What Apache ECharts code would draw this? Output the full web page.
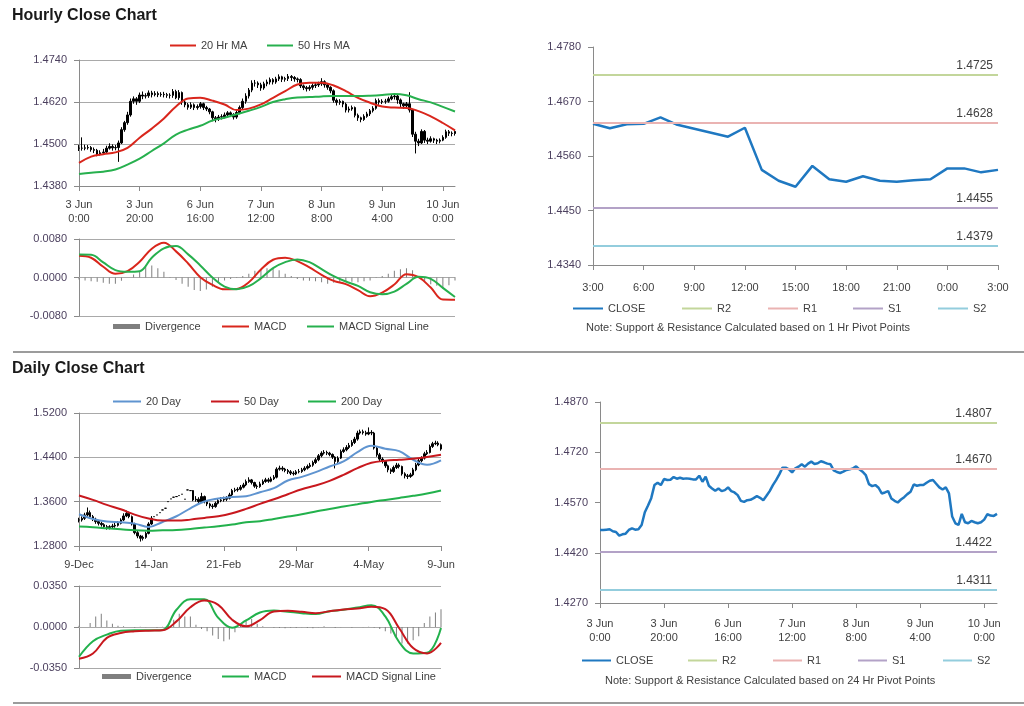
<!DOCTYPE html>
<html><head><meta charset="utf-8">
<script src="https://cdn.jsdelivr.net/npm/echarts@6/dist/echarts.min.js"></script>
<style>html,body{margin:0;padding:0;background:#fff}#c{width:1024px;height:706px}</style>
</head><body><div id="c"></div>
<script>
const FONT = "'Liberation Sans', Arial, sans-serif";

// ---------- tick labels ----------
const hourTicks = ['3 Jun\n0:00','3 Jun\n20:00','6 Jun\n16:00','7 Jun\n12:00','8 Jun\n8:00','9 Jun\n4:00','10 Jun\n0:00'];
const pivotHourTicks = ['3:00','6:00','9:00','12:00','15:00','18:00','21:00','0:00','3:00'];
const dayTicks = ['9-Dec','14-Jan','21-Feb','29-Mar','4-May','9-Jun'];

// ---------- hourly data (one value per hour from 3 Jun 0:00) ----------
const hourlyClose = [
1.4488,1.4488,1.4489,1.4490,1.4484,1.4482,1.4471,1.4475,1.4477,1.4488,
1.4493,1.4489,1.4490,1.4503,1.4541,1.4561,1.4583,1.4622,1.4629,1.4622,
1.4640,1.4637,1.4638,1.4646,1.4641,1.4644,1.4641,1.4642,1.4641,1.4639,
1.4639,1.4650,1.4632,1.4647,1.4620,1.4612,1.4605,1.4612,1.4604,1.4607,
1.4615,1.4604,1.4600,1.4592,1.4575,1.4572,1.4577,1.4578,1.4583,1.4589,
1.4584,1.4577,1.4590,1.4604,1.4622,1.4637,1.4654,1.4674,1.4674,1.4669,
1.4660,1.4672,1.4677,1.4684,1.4677,1.4686,1.4692,1.4685,1.4687,1.4693,
1.4690,1.4686,1.4684,1.4666,1.4661,1.4658,1.4662,1.4667,1.4669,1.4672,
1.4678,1.4669,1.4662,1.4652,1.4625,1.4619,1.4622,1.4614,1.4597,1.4600,
1.4604,1.4582,1.4575,1.4570,1.4579,1.4586,1.4595,1.4602,1.4624,1.4620,
1.4622,1.4622,1.4629,1.4635,1.4637,1.4626,1.4615,1.4609,1.4615,1.4597,
1.4528,1.4508,1.4503,1.4536,1.4511,1.4508,1.4515,1.4511,1.4508,1.4511,
1.4519,1.4535,1.4531,1.4530,1.4536];
const hourlyHigh = [
1.4497,1.4519,1.4498,1.4497,1.4494,1.4490,1.4486,1.4482,1.4486,1.4495,
1.4502,1.4499,1.4497,1.4510,1.4548,1.4566,1.4592,1.4630,1.4636,1.4634,
1.4647,1.4650,1.4645,1.4653,1.4652,1.4651,1.4650,1.4648,1.4649,1.4646,
1.4645,1.4657,1.4655,1.4654,1.4650,1.4625,1.4617,1.4619,1.4616,1.4613,
1.4620,1.4618,1.4609,1.4603,1.4595,1.4580,1.4583,1.4585,1.4590,1.4594,
1.4593,1.4588,1.4596,1.4610,1.4630,1.4645,1.4660,1.4682,1.4683,1.4679,
1.4675,1.4678,1.4684,1.4690,1.4688,1.4692,1.4699,1.4695,1.4692,1.4700,
1.4697,1.4694,1.4690,1.4688,1.4670,1.4666,1.4668,1.4673,1.4675,1.4678,
1.4688,1.4682,1.4673,1.4665,1.4656,1.4630,1.4628,1.4624,1.4618,1.4607,
1.4610,1.4607,1.4587,1.4578,1.4585,1.4592,1.4600,1.4608,1.4630,1.4630,
1.4628,1.4629,1.4635,1.4642,1.4645,1.4640,1.4630,1.4618,1.4620,1.4648,
1.4600,1.4535,1.4515,1.4542,1.4540,1.4518,1.4522,1.4518,1.4515,1.4516,
1.4525,1.4541,1.4540,1.4536,1.4540];
const hourlyLow = [
1.4480,1.4481,1.4482,1.4484,1.4478,1.4474,1.4465,1.4467,1.4470,1.4473,
1.4484,1.4481,1.4482,1.4449,1.4500,1.4535,1.4555,1.4578,1.4615,1.4612,
1.4617,1.4628,1.4630,1.4632,1.4633,1.4636,1.4634,1.4635,1.4633,1.4632,
1.4630,1.4632,1.4628,1.4626,1.4612,1.4605,1.4598,1.4600,1.4597,1.4598,
1.4601,1.4597,1.4594,1.4585,1.4565,1.4562,1.4566,1.4570,1.4573,1.4578,
1.4577,1.4570,1.4572,1.4585,1.4598,1.4615,1.4630,1.4648,1.4664,1.4660,
1.4652,1.4655,1.4665,1.4670,1.4670,1.4672,1.4680,1.4677,1.4678,1.4680,
1.4680,1.4678,1.4676,1.4660,1.4654,1.4650,1.4652,1.4655,1.4660,1.4663,
1.4666,1.4661,1.4655,1.4645,1.4618,1.4610,1.4612,1.4605,1.4590,1.4590,
1.4595,1.4576,1.4566,1.4562,1.4566,1.4575,1.4580,1.4590,1.4598,1.4612,
1.4614,1.4615,1.4618,1.4625,1.4627,1.4615,1.4605,1.4600,1.4600,1.4590,
1.4520,1.4473,1.4494,1.4500,1.4503,1.4500,1.4504,1.4503,1.4500,1.4502,
1.4508,1.4515,1.4523,1.4522,1.4524];
// moving averages, read every 4 hours
const ma20Hr = [1.4446,1.4464,1.4471,1.4476,1.4489,1.4518,1.4544,1.4573,1.4607,1.4630,1.4632,1.4624,1.4613,1.4597,1.4601,1.4613,1.4632,1.4651,1.4670,1.4675,1.4675,1.4667,1.4651,1.4632,1.4618,1.4607,1.4604,1.4603,1.4594,1.4579,1.4560,1.4539];
const ma50Hr = [1.4414,1.4418,1.4421,1.4427,1.4441,1.4458,1.4480,1.4502,1.4527,1.4541,1.4552,1.4567,1.4575,1.4585,1.4595,1.4606,1.4620,1.4628,1.4633,1.4634,1.4636,1.4637,1.4637,1.4637,1.4638,1.4640,1.4643,1.4639,1.4628,1.4619,1.4606,1.4593];
// MACD, read every 4 hours; divergence every 2 hours
const macdHr = [0.00452,0.00411,0.00223,0.00077,0.00132,0.00327,0.00599,0.00724,0.00543,0.00292,0.00007,-0.00153,-0.00244,-0.00237,-0.00097,0.00167,0.00369,0.00411,0.00341,0.00209,0.00056,-0.0007,-0.00139,-0.00264,-0.0039,-0.00313,-0.00146,0.0007,0.00007,-0.00209,-0.00459,-0.00462];
const signalHr = [0.0048,0.00473,0.00313,0.00153,0.00118,0.00132,0.00411,0.00606,0.00654,0.0048,0.00251,0,-0.00188,-0.00244,-0.00181,-0.00014,0.00195,0.0032,0.00376,0.0032,0.00174,0.00028,-0.00084,-0.00174,-0.00306,-0.00348,-0.00292,-0.00132,0.00014,-0.00028,-0.00216,-0.00404];
const divergenceHr = [-0.0004,-0.0006,-0.0008,-0.0009,-0.0011,-0.0013,-0.0013,-0.0007,0.0000,0.0006,
0.0013,0.0023,0.0025,0.0019,0.0012,0.0001,-0.0005,-0.0013,-0.0019,-0.0026,
-0.0028,-0.0025,-0.0019,-0.0011,-0.0006,-0.0003,-0.0001,0.0003,0.0008,0.0014,
0.0017,0.0019,0.0019,0.0015,0.0008,0.0003,-0.0003,-0.0006,-0.0007,-0.0008,
-0.0010,-0.0013,-0.0011,-0.0010,-0.0009,-0.0009,-0.0010,-0.0008,-0.0006,-0.0001,
0.0003,0.0008,0.0014,0.0017,0.0019,0.0015,0.0001,-0.0009,-0.0014,-0.0017,
-0.0023,-0.0016,-0.0006];

// 1 hr pivot chart (3:00 .. 3:00)
const pivotClose1h = [1.4625,1.4616,1.4624,1.4625,1.4638,1.4623,1.4615,1.4607,1.4599,1.4617,1.4532,1.4510,1.4498,1.4540,1.4513,1.4508,1.4519,1.4510,1.4508,1.4511,1.4513,1.4535,1.4535,1.4527,1.4532];
const pivotNames = ['R2','R1','S1','S2'];
const pivotLevels1h = [1.4725,1.4628,1.4455,1.4379];
const pivotLevels24h = [1.4807,1.4670,1.4422,1.4311];

// ---------- daily data ----------
const dailyClose = [
1.3270,1.3300,1.3360,1.3402,1.3330,1.3282,1.3240,1.3209,1.3185,1.3149,
1.3131,1.3149,1.3161,1.3173,1.3209,1.3270,1.3342,1.3390,1.3330,1.3197,
1.3041,1.2980,1.2938,1.2956,1.3028,1.3197,1.3300,1.3330,1.3360,1.3402,
1.3451,1.3481,1.3601,1.3650,1.3680,1.3692,1.3710,1.3734,1.3644,1.3812,
1.3800,1.3631,1.3644,1.3601,1.3692,1.3601,1.3559,1.3523,1.3511,1.3571,
1.3619,1.3631,1.3644,1.3662,1.3722,1.3800,1.3812,1.3824,1.3861,1.3903,
1.3963,1.3993,1.3945,1.3880,1.3873,1.3921,1.3964,1.3994,1.3970,1.4012,
1.4042,1.4187,1.4205,1.4187,1.4163,1.4139,1.4114,1.4102,1.4139,1.4145,
1.4175,1.4205,1.4235,1.4259,1.4307,1.4356,1.4428,1.4476,1.4488,1.4476,
1.4452,1.4404,1.4325,1.4386,1.4506,1.4536,1.4579,1.4615,1.4669,1.4729,
1.4838,1.4862,1.4844,1.4820,1.4850,1.4838,1.4567,1.4446,1.4368,1.4325,
1.4247,1.4175,1.4145,1.4217,1.4259,1.4235,1.4102,1.4066,1.4054,1.4084,
1.4175,1.4265,1.4338,1.4386,1.4464,1.4488,1.4597,1.4645,1.4657,1.4627,
1.4549];
const dailyHigh = [
1.3310,1.3335,1.3400,1.3495,1.3440,1.3360,1.3310,1.3270,1.3240,1.3210,
1.3180,1.3175,1.3200,1.3220,1.3250,1.3300,1.3390,1.3440,1.3420,1.3350,
1.3220,1.3070,1.3000,1.2990,1.3060,1.3230,1.3340,1.3330,1.3360,1.3402,
1.3451,1.3481,1.3601,1.3650,1.3680,1.3692,1.3710,1.3734,1.3644,1.3812,
1.3800,1.3810,1.3700,1.3680,1.3760,1.3710,1.3620,1.3580,1.3560,1.3600,
1.3660,1.3680,1.3690,1.3700,1.3760,1.3830,1.3850,1.3860,1.3900,1.3940,
1.4000,1.4040,1.4010,1.3960,1.3910,1.3960,1.4000,1.4030,1.4030,1.4050,
1.4080,1.4220,1.4250,1.4240,1.4210,1.4190,1.4170,1.4150,1.4170,1.4190,
1.4210,1.4240,1.4270,1.4300,1.4340,1.4390,1.4460,1.4510,1.4530,1.4520,
1.4500,1.4470,1.4420,1.4420,1.4540,1.4580,1.4620,1.4660,1.4710,1.4770,
1.4880,1.4900,1.4900,1.4880,1.4940,1.4890,1.4860,1.4590,1.4480,1.4400,
1.4350,1.4270,1.4200,1.4250,1.4300,1.4290,1.4250,1.4130,1.4100,1.4120,
1.4210,1.4300,1.4370,1.4420,1.4500,1.4530,1.4630,1.4680,1.4700,1.4690,
1.4650];
const dailyLow = [
1.3225,1.3240,1.3270,1.3330,1.3300,1.3250,1.3200,1.3170,1.3150,1.3110,
1.3095,1.3100,1.3120,1.3130,1.3150,1.3190,1.3250,1.3320,1.3300,1.3170,
1.3010,1.2940,1.2880,1.2900,1.2930,1.3010,1.3180,1.3330,1.3360,1.3402,
1.3451,1.3481,1.3601,1.3650,1.3680,1.3692,1.3710,1.3734,1.3644,1.3812,
1.3800,1.3610,1.3600,1.3570,1.3580,1.3570,1.3520,1.3480,1.3470,1.3490,
1.3550,1.3590,1.3600,1.3610,1.3640,1.3700,1.3770,1.3780,1.3800,1.3840,
1.3880,1.3940,1.3910,1.3850,1.3830,1.3850,1.3900,1.3940,1.3940,1.3950,
1.3990,1.4020,1.4160,1.4150,1.4130,1.4100,1.4080,1.4070,1.4080,1.4110,
1.4120,1.4150,1.4180,1.4210,1.4230,1.4280,1.4330,1.4400,1.4450,1.4440,
1.4420,1.4370,1.4200,1.4300,1.4370,1.4480,1.4510,1.4550,1.4590,1.4640,
1.4700,1.4810,1.4810,1.4790,1.4800,1.4800,1.4540,1.4410,1.4330,1.4290,
1.4210,1.4130,1.4100,1.4120,1.4190,1.4200,1.4070,1.4020,1.4010,1.4030,
1.4060,1.4150,1.4240,1.4310,1.4360,1.4440,1.4470,1.4570,1.4620,1.4600,
1.4520];
// moving averages, read every 5 days
const ma20Day = [1.3373,1.3288,1.3240,1.3228,1.3204,1.3144,1.3234,1.3337,1.3481,1.3602,1.3656,1.3686,1.3699,1.3771,1.3843,1.3982,1.4048,1.4133,1.4235,1.4326,1.4494,1.4609,1.4555,1.4513,1.4356,1.4265,1.4344];
const ma50Day = [1.3711,1.3632,1.3542,1.3463,1.3367,1.3295,1.3258,1.3258,1.3276,1.3307,1.3337,1.3391,1.3469,1.3560,1.3644,1.3735,1.3825,1.3891,1.3976,1.4084,1.4205,1.4302,1.4338,1.4356,1.4374,1.4404,1.4446];
const ma200Day = [1.3150,1.3138,1.3120,1.3102,1.3083,1.3077,1.3083,1.3089,1.3108,1.3132,1.3156,1.3186,1.3228,1.3246,1.3288,1.3331,1.3373,1.3421,1.3469,1.3512,1.3554,1.3596,1.3632,1.3668,1.3705,1.3747,1.3801];
// MACD, read every 5 days; divergence every 2 days
const macdDay = [-0.0254,-0.0121,-0.0065,-0.0031,-0.0028,-0.0028,-0.0025,0.0147,0.0237,0.0237,0.0079,-0.0006,0.0056,0.0124,0.0141,0.0130,0.0118,0.0110,0.0135,0.0147,0.0166,0.0186,0.0090,-0.0130,-0.0226,-0.0220,-0.0008];
const signalDay = [-0.0271,-0.0226,-0.0093,-0.0051,-0.0037,-0.0031,-0.0028,0.0048,0.0169,0.0226,0.0189,0.0062,0.0006,0.0059,0.0133,0.0138,0.0130,0.0118,0.0135,0.0149,0.0158,0.0172,0.0152,-0.0011,-0.0180,-0.0226,-0.0135];
const divergenceDay = [0.0011,0.0000,0.0034,0.0090,0.0113,0.0056,0.0028,0.0011,0.0006,0.0000,
-0.0006,0.0003,-0.0003,0.0000,-0.0006,0.0003,0.0011,0.0062,0.0113,0.0090,
0.0090,0.0020,-0.0017,-0.0037,-0.0073,-0.0102,-0.0121,-0.0107,-0.0045,0.0020,
0.0062,0.0068,0.0028,0.0006,0.0000,-0.0006,-0.0008,-0.0011,-0.0006,-0.0008,
-0.0003,-0.0008,-0.0011,-0.0003,0.0006,0.0000,-0.0008,-0.0003,0.0000,-0.0006,
0.0000,-0.0003,0.0003,-0.0006,-0.0017,-0.0037,-0.0056,-0.0093,-0.0141,-0.0141,
-0.0113,-0.0079,0.0034,0.0090,0.0124,0.0152];

// ---------- helpers ----------
const idx = n => Array.from({length: n}, (_, i) => String(i));
const pairs = (arr, step) => arr.map((v, k) => [k * step, v]);
const ohlc = (close, high, low) => close.map((c, i) => {
  const o = (i === 0 || high[i] === low[i]) ? c : close[i - 1];
  return [o, c, low[i], high[i]];
});

const AX = '#8a8a8a', GRIDC = '#a9a9a9', YLAB = '#4b3f5e', XLAB = '#3f3f3f', TXT = '#404040';
const RED_H = '#d9261c', GREEN_H = '#27b04e';
const BLUE_D = '#5f94d0', RED_D = '#c8181e', GREEN_D = '#22b14c';
const CLOSE_C = '#1f78c1';
const PIVOT_C = ['#c3d69b', '#eab3b2', '#b3a2c7', '#93cddd'];

function yAx(g, min, max, interval, split) {
  return {
    type: 'value', gridIndex: g, min, max, interval, scale: true,
    axisLine: {show: true, lineStyle: {color: AX}},
    axisTick: {show: true, length: 5, lineStyle: {color: AX}},
    axisLabel: {formatter: v => v.toFixed(4), color: YLAB, fontSize: 11, fontFamily: FONT, margin: 12},
    splitLine: {show: split, lineStyle: {color: GRIDC, width: 1}}
  };
}
function xCat(g, n, every, labels, margin, lh) {
  return {
    type: 'category', gridIndex: g, data: idx(n), boundaryGap: false,
    axisLine: {show: true, onZero: false, lineStyle: {color: AX}},
    axisTick: {show: true, interval: every - 1, length: 5, lineStyle: {color: AX}},
    axisLabel: {interval: every - 1, formatter: v => labels[Number(v) / every] || '',
      color: XLAB, fontSize: 11, fontFamily: FONT, margin, lineHeight: lh},
    splitLine: {show: false}
  };
}
function xMacd(g, n) {
  return {
    type: 'category', gridIndex: g, data: idx(n), boundaryGap: false,
    axisLine: {show: true, onZero: true, lineStyle: {color: GRIDC}},
    axisTick: {show: false}, axisLabel: {show: false}, splitLine: {show: false}
  };
}
function leg(name, left, top, w, h, color) {
  const item = color ? {name, itemStyle: {color}, lineStyle: {color}} : {name};
  return {data: [item], left, top, padding: 0, icon: 'rect', itemWidth: w, itemHeight: h,
    textStyle: {fontSize: 11, color: TXT, fontFamily: FONT}, selectedMode: false};
}
function lineS(name, x, y, data, color, width, smooth) {
  return {name, type: 'line', xAxisIndex: x, yAxisIndex: y, data, smooth: smooth ? 0.4 : false,
    symbol: 'none', color, lineStyle: {color, width}, z: 3};
}
function pivotS(name, x, y, level, color) {
  return {name, type: 'line', xAxisIndex: x, yAxisIndex: y, data: [], symbol: 'none', color,
    lineStyle: {color, width: 2},
    markLine: {symbol: 'none', silent: true, animation: false, precision: 4,
      lineStyle: {color, width: 2, type: 'solid'},
      label: {show: true, position: 'insideEndTop', distance: [5, 3], formatter: () => level.toFixed(4),
        color: TXT, fontSize: 12, fontFamily: FONT},
      data: [{yAxis: level}]}};
}
function candleS(x, y, data) {
  return {type: 'candlestick', xAxisIndex: x, yAxisIndex: y, data, barWidth: 2,
    itemStyle: {color: '#000', color0: '#000', borderColor: '#000', borderColor0: '#000', borderWidth: 1}, z: 2};
}
function barS(x, y, data) {
  return {name: 'Divergence', type: 'bar', xAxisIndex: x, yAxisIndex: y, data, barWidth: 1,
    color: '#7f7f7f', itemStyle: {color: '#7f7f7f'}, z: 2};
}

const option = {
  animation: false,
  backgroundColor: '#fff',
  textStyle: {fontFamily: FONT},
  title: [
    {text: 'Hourly Close Chart', left: 12, top: 8, padding: 0, textStyle: {fontSize: 16, fontWeight: 'bold', color: '#1a1a1a', fontFamily: FONT}},
    {text: 'Daily Close Chart', left: 12, top: 361, padding: 0, textStyle: {fontSize: 16, fontWeight: 'bold', color: '#1a1a1a', fontFamily: FONT}},
    {text: 'Note: Support & Resistance Calculated based on 1 Hr Pivot Points', left: 586, top: 322, padding: 0,
      textStyle: {fontSize: 11, fontWeight: 'normal', color: TXT, fontFamily: FONT}},
    {text: 'Note: Support & Resistance Calculated based on 24 Hr Pivot Points', left: 605, top: 675, padding: 0,
      textStyle: {fontSize: 11, fontWeight: 'normal', color: TXT, fontFamily: FONT}}
  ],
  graphic: [
    {type: 'line', shape: {x1: 13, y1: 352, x2: 1024, y2: 352}, style: {stroke: '#9c9c9c', lineWidth: 2}},
    {type: 'line', shape: {x1: 13, y1: 703, x2: 1024, y2: 703}, style: {stroke: '#9c9c9c', lineWidth: 2}}
  ],
  legend: [
    leg('20 Hr MA', 170, 40, 26, 2),
    leg('50 Hrs MA', 267, 40, 26, 2),
    leg('Divergence', 113, 321, 27, 5),
    leg('MACD', 222, 321, 27, 2),
    leg('MACD Signal Line', 307, 321, 27, 2),
    leg('CLOSE', 573, 303, 30, 2),
    leg('R2', 682, 303, 30, 2),
    leg('R1', 768, 303, 30, 2),
    leg('S1', 853, 303, 30, 2),
    leg('S2', 938, 303, 30, 2),
    leg('20 Day', 113, 396, 28, 2),
    leg('50 Day', 211, 396, 28, 2),
    leg('200 Day', 308, 396, 28, 2),
    leg('Divergence', 102, 671, 29, 5),
    leg('MACD', 222, 671, 27, 2, GREEN_D),
    leg('MACD Signal Line', 312, 671, 29, 2, RED_D),
    leg('CLOSE', 582, 655, 29, 2),
    leg('R2', 688, 655, 29, 2),
    leg('R1', 773, 655, 29, 2),
    leg('S1', 858, 655, 29, 2),
    leg('S2', 943, 655, 29, 2)
  ],
  grid: [
    {left: 79, top: 60, width: 376, height: 126},
    {left: 79, top: 239, width: 376, height: 77},
    {left: 593, top: 47, width: 405, height: 218},
    {left: 79, top: 413, width: 362, height: 133},
    {left: 79, top: 586, width: 362, height: 82},
    {left: 600, top: 402, width: 397, height: 201}
  ],
  xAxis: [
    xCat(0, hourlyClose.length, 20, hourTicks, 12, 14),
    xMacd(1, hourlyClose.length),
    xCat(2, pivotClose1h.length, 3, pivotHourTicks, 16, 14),
    xCat(3, dailyClose.length, 26, dayTicks, 12, 14),
    xMacd(4, dailyClose.length),
    xCat(5, hourlyClose.length, 20, hourTicks, 14, 14)
  ],
  yAxis: [
    yAx(0, 1.438, 1.474, 0.012, true),
    yAx(1, -0.008, 0.008, 0.008, true),
    yAx(2, 1.434, 1.478, 0.011, false),
    yAx(3, 1.28, 1.52, 0.08, true),
    yAx(4, -0.035, 0.035, 0.035, true),
    yAx(5, 1.427, 1.487, 0.015, false)
  ],
  series: [
    // hourly candles + MAs
    candleS(0, 0, ohlc(hourlyClose, hourlyHigh, hourlyLow)),
    lineS('20 Hr MA', 0, 0, pairs(ma20Hr, 4), RED_H, 2, true),
    lineS('50 Hrs MA', 0, 0, pairs(ma50Hr, 4), GREEN_H, 2, true),
    // hourly MACD
    barS(1, 1, pairs(divergenceHr, 2)),
    lineS('MACD', 1, 1, pairs(macdHr, 4), RED_H, 2, true),
    lineS('MACD Signal Line', 1, 1, pairs(signalHr, 4), GREEN_H, 2, true),
    // 1 hr pivots
    lineS('CLOSE', 2, 2, pivotClose1h, CLOSE_C, 2.5, false),
    ...pivotNames.map((n, i) => pivotS(n, 2, 2, pivotLevels1h[i], PIVOT_C[i])),
    // daily candles + MAs
    candleS(3, 3, ohlc(dailyClose, dailyHigh, dailyLow)),
    lineS('20 Day', 3, 3, pairs(ma20Day, 5), BLUE_D, 2, true),
    lineS('50 Day', 3, 3, pairs(ma50Day, 5), RED_D, 2, true),
    lineS('200 Day', 3, 3, pairs(ma200Day, 5), GREEN_D, 2, true),
    // daily MACD
    barS(4, 4, pairs(divergenceDay, 2)),
    lineS('MACD', 4, 4, pairs(macdDay, 5), GREEN_D, 2, true),
    lineS('MACD Signal Line', 4, 4, pairs(signalDay, 5), RED_D, 2, true),
    // 24 hr pivots
    lineS('CLOSE', 5, 5, hourlyClose, CLOSE_C, 2.5, false),
    ...pivotNames.map((n, i) => pivotS(n, 5, 5, pivotLevels24h[i], PIVOT_C[i]))
  ]
};
const chart = echarts.init(document.getElementById('c'), null, {renderer: 'canvas'});
chart.setOption(option);
</script></body></html>
